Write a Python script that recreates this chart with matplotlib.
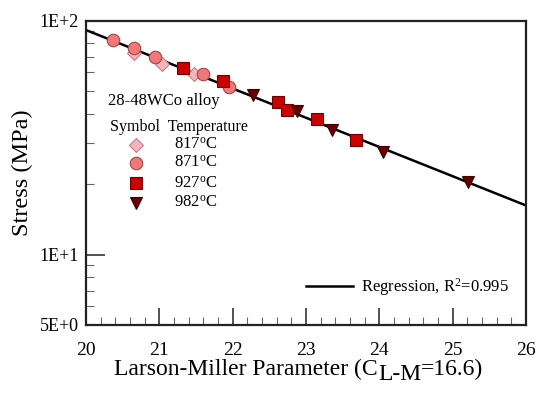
import numpy as np
import matplotlib
matplotlib.use("Agg")
import matplotlib.pyplot as plt
from matplotlib.ticker import FixedLocator, NullFormatter, MultipleLocator
from matplotlib.lines import Line2D

plt.rcParams['font.family'] = ['Liberation Serif', 'DejaVu Serif']
plt.rcParams['mathtext.fontset'] = 'custom'
plt.rcParams['mathtext.rm'] = 'Liberation Serif'
plt.rcParams['mathtext.it'] = 'Liberation Serif:italic'

# Larson-Miller parameter (x1000) and stress (MPa)
lmp_817 = [20.655, 21.036, 21.47]
stress_817 = [72.3, 65.5, 58.8]

lmp_871 = [20.368, 20.655, 20.941, 21.595, 21.950]
stress_871 = [82.2, 76.0, 69.5, 58.8, 51.8]

lmp_927 = [21.323, 21.868, 22.618, 22.741, 23.150, 23.682]
stress_927 = [62.4, 54.9, 44.7, 41.3, 37.8, 30.8]

lmp_982 = [22.277, 22.877, 23.355, 24.050, 25.209]
stress_982 = [47.9, 40.9, 33.9, 27.3, 20.4]

series = [
    ("817", lmp_817, stress_817, "D", "#f8b4bd", "#c08088", 7.5),
    ("871", lmp_871, stress_871, "o", "#f07878", "#a04848", 9),
    ("927", lmp_927, stress_927, "s", "#cc0000", "#700000", 8.5),
    ("982", lmp_982, stress_982, "v", "#6a0000", "#400000", 9),
]

# regression through all points (log stress vs LMP)
all_x = np.array(lmp_817 + lmp_871 + lmp_927 + lmp_982)
all_y = np.log10(np.array(stress_817 + stress_871 + stress_927 + stress_982))
slope, intercept = np.polyfit(all_x, all_y, 1)

W, H = 539, 396
fig = plt.figure(figsize=(W / 100, H / 100), dpi=100)
ax = fig.add_axes([0.1596, 0.1793, 0.8163, 0.7689])

xs = np.linspace(20, 26, 50)
ax.plot(xs, 10 ** (intercept + slope * xs), color="black", lw=1.8, zorder=2)

for name, x, y, m, fc, ec, ms in series:
    ax.plot(x, y, linestyle="none", marker=m, markersize=ms,
            markerfacecolor=fc, markeredgecolor=ec, markeredgewidth=0.8, zorder=3)

ax.set_yscale("log")
ax.set_xlim(20, 26)
ax.set_ylim(5, 100)

ax.yaxis.set_major_locator(FixedLocator([5, 10, 100]))
ax.set_yticklabels(["5E+0", "1E+1", "1E+2"])
ax.yaxis.set_minor_locator(FixedLocator([6, 7, 8, 9, 20, 30, 40, 50, 60, 70, 80, 90]))
ax.yaxis.set_minor_formatter(NullFormatter())
ax.xaxis.set_major_locator(MultipleLocator(1))
ax.xaxis.set_minor_locator(MultipleLocator(0.2))

ax.tick_params(axis="both", which="major", direction="in", length=12, width=1.2,
               top=False, right=False, color="#333333")
ax.tick_params(axis="both", which="minor", direction="in", length=6, width=0.8,
               top=False, right=False, color="#666666")
ax.tick_params(axis="x", which="major", labelsize=14, pad=12)
ax.tick_params(axis="y", which="major", labelsize=13, pad=5, length=14)
for s in ax.spines.values():
    s.set_linewidth(1.6)
    s.set_color("#222222")

ax.set_ylabel("Stress (MPa)", fontsize=17.5, labelpad=5)

# x label built from pieces so the L-M subscript keeps full size
renderer = fig.canvas.get_renderer()
base_y = 1 - 375 / H
pieces = [("Larson-Miller Parameter (C", 0), ("L-M", -5), ("=16.6)", 0)]
texts = []
cur_x = 0.0
for s, dy in pieces:
    t = fig.text(cur_x, base_y + dy / H, s, fontsize=17, va="baseline", ha="left")
    bb = t.get_window_extent(renderer)
    cur_x = bb.x1 / W
    texts.append(t)
total = cur_x
shift = (299 / W) - total / 2
for t in texts:
    px, py = t.get_position()
    t.set_position((px + shift, py))

# in-plot symbol table
tr = ax.transAxes
ax.text(0.05, 0.735, "28-48WCo alloy", transform=tr, fontsize=12, va="center")
ax.text(0.055, 0.65, "Symbol  Temperature", transform=tr, fontsize=11.5, va="center")
rows_y = [0.591, 0.532, 0.466, 0.401]
for (name, x, y, m, fc, ec, ms), ry in zip(series, rows_y):
    ax.plot([0.114], [ry], transform=tr, marker=m, markersize=ms, linestyle="none",
            markerfacecolor=fc, markeredgecolor=ec, markeredgewidth=0.8, clip_on=False)
    ax.text(0.25, ry, name + r"$^{\mathrm{o}}$C", transform=tr, fontsize=12,
            va="center", ha="center")

leg_line = Line2D([0.0], [0.0], color="black", lw=1.8)
ax.legend([leg_line], [r"Regression, R$^{2}$=0.995"], loc="lower right",
          bbox_to_anchor=(0.995, 0.04), frameon=False, fontsize=12,
          handlelength=2.8, handletextpad=0.5)

fig.savefig("out.png", dpi=100)
